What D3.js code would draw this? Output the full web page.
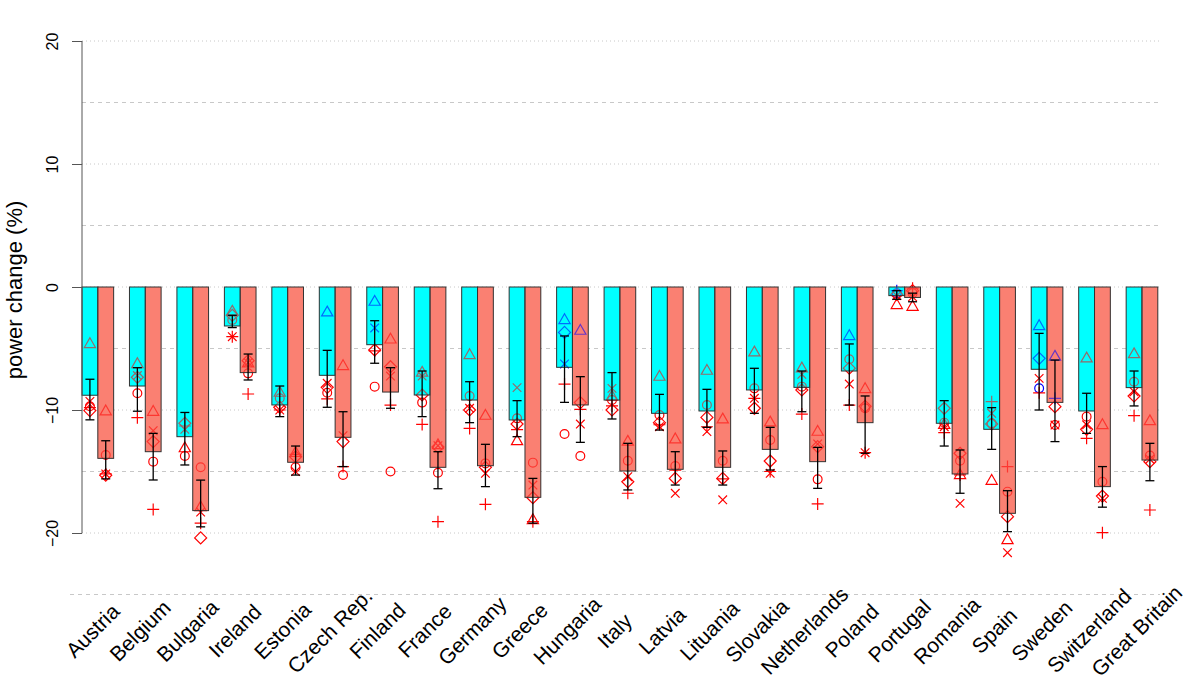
<!DOCTYPE html>
<html><head><meta charset="utf-8">
<script src="https://cdn.jsdelivr.net/npm/d3@7"></script>
<style>html,body{margin:0;padding:0;background:#fff;}svg{display:block;}</style>
</head><body>
<svg id="chart" width="1200" height="695"></svg>
<script>
const countries = ["Austria","Belgium","Bulgaria","Ireland","Estonia","Czech Rep.","Finland","France","Germany","Greece","Hungaria","Italy","Latvia","Lituania","Slovakia","Netherlands","Poland","Portugal","Romania","Spain","Sweden","Switzerland","Great Britain"];
const yTicks = [-20, -10, 0, 10, 20];
const gridValues = [20, 15, 10, 5, 0, -5, -10, -15, -20, -25];

// bar heights (cyan = A, salmon = B)
const barA = [-8.8,-8.05,-12.17,-3.17,-9.59,-7.18,-4.69,-8.78,-9.19,-10.81,-6.53,-9.19,-10.27,-10.08,-8.37,-8.16,-6.83,-0.7,-11.08,-11.57,-6.69,-10.08,-8.18];
const barB = [-13.93,-13.39,-18.18,-6.96,-14.25,-12.22,-8.54,-14.66,-14.53,-17.1,-9.59,-14.96,-14.82,-14.66,-13.2,-14.2,-11.03,-0.85,-15.2,-18.4,-9.38,-16.23,-14.07];
// error bar ends
const errAtop = [-7.5,-6.56,-10.2,-2.3,-8.05,-5.15,-2.74,-6.83,-7.7,-9.24,-3.98,-6.96,-8.73,-8.32,-6.61,-6.83,-4.63,-0.3,-9.24,-9.81,-3.77,-8.64,-6.83];
const errAbot = [-10.8,-10.1,-14.47,-3.3,-10.54,-9.78,-6.2,-10.54,-11.03,-12.17,-9.38,-10.73,-11.63,-11.41,-10.27,-10.14,-9.6,-1.0,-12.93,-13.2,-10.0,-11.9,-9.67];
const errBtop = [-12.5,-11.9,-15.7,-5.45,-12.93,-10.14,-6.56,-13.39,-12.79,-15.56,-7.29,-12.71,-13.39,-13.33,-11.41,-13.04,-8.86,-0.5,-13.25,-16.56,-5.94,-14.6,-12.71];
const errBbot = [-15.6,-15.69,-19.5,-7.56,-15.29,-14.6,-9.86,-16.4,-16.23,-19.2,-12.63,-16.5,-16.1,-16.1,-14.88,-16.37,-13.52,-1.2,-16.77,-19.89,-12.57,-17.9,-15.75];

// individual model markers, cyan group
const triA  = [-4.63,-6.26,-13.1,-2.0,-8.59,-2.06,-1.19,-6.96,-5.53,-12.52,-2.68,-8.9,-7.29,-6.8,-5.31,-6.61,-3.98,-1.46,-11.2,-15.75,-3.17,-5.8,-5.45];
const circA = [-9.7,-8.64,-13.74,-2.68,-9.05,-8.6,-8.1,-9.4,-8.86,-10.68,-11.95,-9.19,-10.41,-9.59,-8.24,-8.1,-5.88,-0.5,-11.03,-11.08,-8.24,-10.54,-7.7];
const diamA = [-10.05,-7.34,-11.08,-2.3,-9.78,-8.16,-5.12,-8.78,-10.0,-11.14,-3.69,-10.0,-11.03,-10.6,-9.86,-8.37,-6.6,-0.6,-9.86,-11.14,-5.8,-11.57,-8.86];
const xA    = [-9.3,-7.2,-11.57,-4.04,-10.0,-7.83,-3.33,-7.24,-9.86,-8.18,-6.26,-8.24,-11.36,-11.76,-9.05,-7.1,-7.89,-0.7,-11.36,-10.27,-7.43,-11.2,-8.51];
const plusA = [-9.8,-10.62,-11.3,-4.04,-10.0,-9.1,-5.2,-11.17,-11.5,-11.6,-7.89,-9.67,-11.2,-11.36,-9.05,-10.33,-9.6,-0.3,-11.84,-9.32,-8.6,-12.3,-10.46];
// markers, salmon group
const triB  = [-10.1,-10.14,-17.9,-6.2,-13.47,-6.42,-4.26,-12.85,-10.46,-18.94,-3.55,-12.57,-12.38,-10.76,-11.0,-11.76,-8.29,-1.6,-15.28,-20.57,-5.66,-11.22,-10.9];
const circB = [-13.66,-14.2,-14.66,-7.02,-14.66,-15.28,-15.0,-15.1,-14.34,-14.28,-13.74,-14.12,-14.55,-14.12,-12.44,-15.64,-9.86,-0.5,-14.12,-16.64,-11.22,-15.83,-13.7];
const diamB = [-15.3,-12.57,-20.4,-5.99,-13.8,-12.57,-6.48,-13.0,-14.66,-17.13,-9.4,-15.83,-15.56,-15.56,-14.15,-12.98,-9.7,-0.3,-13.52,-18.67,-9.73,-17.0,-14.2];
const xB    = [-15.2,-11.68,-18.3,-6.15,-15.0,-12.09,-7.24,-12.9,-15.15,-16.1,-11.14,-15.42,-16.77,-17.3,-15.15,-12.76,-13.47,-0.8,-17.59,-21.6,-11.22,-17.18,-14.0];
const plusB = [-15.2,-18.08,-19.2,-8.7,-13.6,-14.6,-9.6,-19.08,-17.67,-19.08,-9.95,-16.77,-14.9,-15.6,-15.0,-17.64,-13.47,-0.1,-15.28,-14.6,-9.05,-19.97,-18.13];
// markers drawn in blue instead of red: [country index, group, shape]
const blueMarks = [[5,"A","tri"],[6,"A","tri"],[6,"A","x"],[10,"A","tri"],[10,"A","diam"],[10,"A","x"],[10,"B","tri"],[16,"A","tri"],[17,"A","plus"],[17,"A","circ"],[20,"A","tri"],[20,"A","diam"],[20,"A","circ"],[20,"B","tri"],[20,"B","plus"]];

const svg = d3.select("#chart");
const x0 = d3.scaleBand().domain(countries).range([82, 1157.8]).paddingInner(1/3).paddingOuter(0);
const x1 = d3.scaleBand().domain(["A","B"]).range([0, x0.bandwidth()]).padding(0);
const y = d3.scaleLinear().domain([-25, 20]).range([594.5, 41]);
const fills = {A: "#00FFFF", B: "#FA8072"};
const FONT = "Liberation Sans, Arial, Helvetica, sans-serif";

// grid
svg.append("g").selectAll("line").data(gridValues).join("line")
  .attr("x1", d => d === -25 ? 70 : 82).attr("x2", 1160)
  .attr("y1", d => y(d)).attr("y2", d => y(d))
  .attr("stroke", "#c8c8c8").attr("stroke-width", 1)
  .attr("stroke-dasharray", d => d % 10 === 0 ? "1,3" : "4,4");

const groups = ["A","B"];
const bars = [];
countries.forEach((c, i) => {
  bars.push({c, g: "A", v: barA[i], lo: errAtop[i], hi: errAbot[i]});
  bars.push({c, g: "B", v: barB[i], lo: errBtop[i], hi: errBbot[i]});
});
const bx = d => x0(d.c) + x1(d.g);

// opaque bars
svg.append("g").selectAll("rect").data(bars).join("rect")
  .attr("x", bx).attr("width", x1.bandwidth())
  .attr("y", y(0)).attr("height", d => y(d.v) - y(0))
  .attr("fill", d => fills[d.g]);

// markers
const shapes = {
  tri: "M0,-6.2L5.6,3.6L-5.6,3.6Z",
  circ: "M4.4,0A4.4,4.4 0 1,1 -4.4,0A4.4,4.4 0 1,1 4.4,0Z",
  diam: "M0,-6L6,0L0,6L-6,0Z",
  x: "M-4.3,-4.3L4.3,4.3M-4.3,4.3L4.3,-4.3",
  plus: "M-6,0L6,0M0,-6L0,6"
};
const markerSets = {A: {tri: triA, circ: circA, diam: diamA, x: xA, plus: plusA},
                    B: {tri: triB, circ: circB, diam: diamB, x: xB, plus: plusB}};
const markers = [];
countries.forEach((c, i) => {
  groups.forEach(g => {
    Object.keys(shapes).forEach(s => {
      const isBlue = blueMarks.some(b => b[0] === i && b[1] === g && b[2] === s);
      markers.push({c, g, s, v: markerSets[g][s][i], blue: isBlue});
    });
  });
});
svg.append("g").selectAll("path").data(markers).join("path")
  .attr("transform", d => `translate(${bx(d) + x1.bandwidth()/2},${y(d.v)})`)
  .attr("d", d => shapes[d.s])
  .attr("fill", "none")
  .attr("stroke", d => d.blue ? "#0000FF" : "#FF0000")
  .attr("stroke-width", 1.2);

// translucent bar overlay with outline
svg.append("g").selectAll("rect").data(bars).join("rect")
  .attr("x", bx).attr("width", x1.bandwidth())
  .attr("y", y(0)).attr("height", d => y(d.v) - y(0))
  .attr("fill", d => fills[d.g]).attr("fill-opacity", 0.42)
  .attr("stroke", "#333").attr("stroke-width", 1);

// error bars
const eg = svg.append("g").attr("stroke", "#000").attr("stroke-width", 1.3);
bars.forEach(d => {
  const cx = bx(d) + x1.bandwidth()/2;
  eg.append("line").attr("x1", cx).attr("x2", cx).attr("y1", y(d.lo)).attr("y2", y(d.hi));
  eg.append("line").attr("x1", cx-4.5).attr("x2", cx+4.5).attr("y1", y(d.lo)).attr("y2", y(d.lo));
  eg.append("line").attr("x1", cx-4.5).attr("x2", cx+4.5).attr("y1", y(d.hi)).attr("y2", y(d.hi));
});

// y axis
const ax = svg.append("g").attr("transform", "translate(82,0)")
  .call(d3.axisLeft(y).tickValues(yTicks).tickSize(10).tickFormat(d3.format("d")));
ax.select(".domain").remove();
ax.selectAll(".tick line").attr("stroke", "#555");
ax.append("line").attr("x1", 0).attr("x2", 0).attr("y1", y(20)).attr("y2", y(-20)).attr("stroke", "#555");
ax.selectAll(".tick text")
  .attr("font-family", FONT).attr("font-size", 16).attr("fill", "#000")
  .attr("x", 0).attr("dy", 0)
  .attr("text-anchor", "middle")
  .attr("transform", "translate(-24,0) rotate(-90)");

svg.append("text").attr("transform", "translate(22,290) rotate(-90)")
  .attr("text-anchor", "middle")
  .attr("font-family", FONT).attr("font-size", 22)
  .text("power change (%)");

// x labels (centred under each pair, rotated 45 degrees)
svg.append("g").selectAll("text").data(countries).join("text")
  .attr("transform", d => `translate(${x0(d) + x0.bandwidth()/2 - 3},633) rotate(-45)`)
  .attr("text-anchor", "middle").attr("dy", "0.2em")
  .attr("font-family", FONT).attr("font-size", 21)
  .text(d => d);
</script>
</body></html>
